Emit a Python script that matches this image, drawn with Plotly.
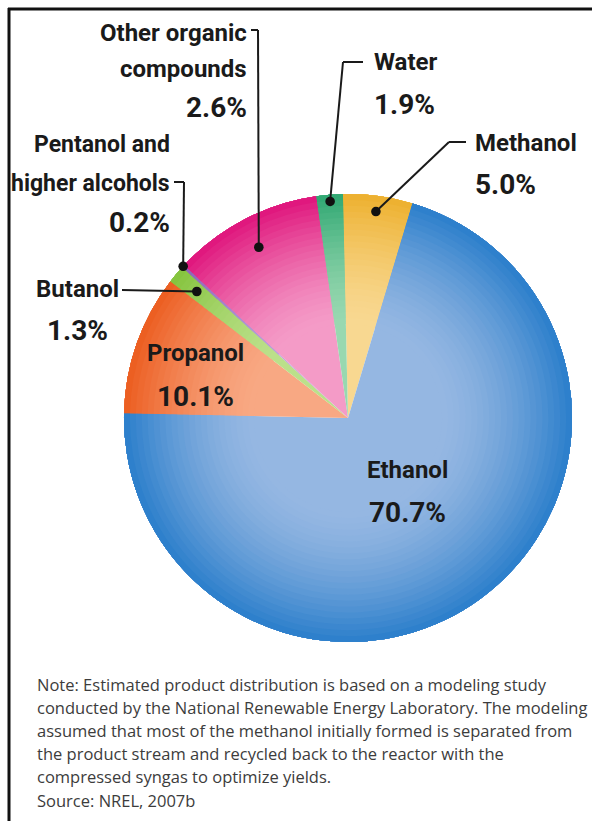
import math
import plotly.graph_objects as go

# ---------------- data ----------------
names = ["Methanol", "Ethanol", "Propanol", "Butanol",
         "Pentanol and higher alcohols", "Other organic compounds", "Water"]
display_names = ["Methanol", "Ethanol", "Propanol", "Butanol",
                 "Pentanol and<br>higher alcohols", "Other organic<br>compounds", "Water"]
printed_pct = [5.0, 70.7, 10.1, 1.3, 0.2, 2.6, 1.9]          # percentages printed on the chart
drawn_share = [5.0, 70.7, 10.1, 1.3, 0.2, 10.8, 1.9]         # slice sizes as drawn in the picture

note_lines = [
    "Note: Estimated product distribution is based on a modeling study",
    "conducted by the National Renewable Energy Laboratory. The modeling",
    "assumed that most of the methanol initially formed is separated from",
    "the product stream and recycled back to the reactor with the",
    "compressed syngas to optimize yields.",
    "Source: NREL, 2007b",
]

# ---------------- styles ----------------
inner_colors = ["#f8d891", "#95b7e2", "#f8a883", "#bbe08a", "#b9a0d8", "#f49bc7", "#98d8b0"]
outer_colors = ["#edb02e", "#2a7ecb", "#ec5c1f", "#84c33c", "#8a5fb5", "#df137b", "#2ea772"]

W, H = 592, 821
CX, CY, R = 348, 418, 224
ROT = -1.3

# label placement: (x, xanchor, y of first name line, line step, y of pct line)
label_pos = {
    "Methanol": (473, "left", 143, 38, 184),
    "Ethanol": (407, "center", 470, 38, 512),
    "Propanol": (195, "center", 353, 38, 396),
    "Butanol": (78, "center", 289, 38, 330),
    "Pentanol and higher alcohols": (172, "right", 145, 38, 223),
    "Other organic compounds": (249, "right", 33, 36, 107),
    "Water": (372, "left", 62, 38, 104),
}
name_sizes = {"Pentanol and higher alcohols": 23}
# leader lines: text-side points, then dot radius fraction
leader = {
    "Methanol": ([(466, 142), (449, 142)], 0.93),
    "Water": ([(363, 62), (343, 62)], 0.97),
    "Other organic compounds": ([(251, 30), (258, 30)], 0.86),
    "Pentanol and higher alcohols": ([(174, 182), (184, 182)], 1.0),
    "Butanol": ([(122, 290)], 0.88),
}

LABEL_FONT = "Liberation Sans Narrow, Arial Narrow, Roboto, sans-serif"


def hex_rgb(h):
    h = h.lstrip("#")
    return tuple(int(h[i:i + 2], 16) for i in (0, 2, 4))


def mix(c1, c2, t):
    a, b = hex_rgb(c1), hex_rgb(c2)
    return "rgb(%d,%d,%d)" % tuple(round(a[i] + (b[i] - a[i]) * t) for i in range(3))


def px(x):
    return x / W


def py(y):
    return 1 - y / H


fig = go.Figure()
dom_x = [px(CX - R), px(CX + R)]
dom_y = [py(CY + R), py(CY - R)]

# layered pies to imitate the radial shading
R0, NL = 0.42, 22
layers = [(0.0, 0.0)]
for k in range(NL):
    hole = R0 + k * (1 - R0) / NL
    rmid = hole + 0.5 * (1 - R0) / NL
    t = min(1.0, max(0.0, (rmid - R0) / (1 - R0))) ** 1.5
    layers.append((hole, t))

for hole, t in layers:
    fig.add_trace(go.Pie(
        values=drawn_share, labels=names, sort=False, direction="clockwise",
        rotation=ROT, hole=hole,
        marker=dict(colors=[mix(i, o, t) for i, o in zip(inner_colors, outer_colors)],
                    line=dict(width=0)),
        textinfo="none", hoverinfo="skip", showlegend=False,
        domain=dict(x=dom_x, y=dom_y),
    ))

# slice mid angles (clockwise from 12 o'clock)
total = sum(drawn_share)
mid_angle = {}
acc = ROT
for n, v in zip(names, drawn_share):
    span = 360 * v / total
    mid_angle[n] = acc + span / 2
    acc += span

shapes = []
annotations = []

# frame
shapes.append(dict(type="line", xref="paper", yref="paper", x0=px(8), x1=px(W + 2),
                   y0=py(9), y1=py(9), line=dict(color="#111", width=3)))
shapes.append(dict(type="line", xref="paper", yref="paper", x0=px(9), x1=px(9),
                   y0=py(8), y1=py(H + 2), line=dict(color="#111", width=3)))

# leader lines and dots
for n, (pts, rf) in leader.items():
    a = math.radians(mid_angle[n])
    dx = CX + R * rf * math.sin(a)
    dy = CY - R * rf * math.cos(a)
    path_pts = pts + [(dx, dy)]
    for (x0, y0), (x1, y1) in zip(path_pts[:-1], path_pts[1:]):
        shapes.append(dict(type="line", xref="paper", yref="paper", layer="above",
                           x0=px(x0), y0=py(y0), x1=px(x1), y1=py(y1),
                           line=dict(color="#1a1a1a", width=2)))
    rd = 4.8
    shapes.append(dict(type="circle", xref="paper", yref="paper", layer="above",
                       x0=px(dx - rd), x1=px(dx + rd), y0=py(dy + rd), y1=py(dy - rd),
                       fillcolor="#111", line=dict(color="#111", width=0)))

# labels
for n, dn, p in zip(names, display_names, printed_pct):
    x, xa, y0, step, ypct = label_pos[n]
    for i, line in enumerate(dn.split("<br>")):
        annotations.append(dict(
            x=px(x), y=py(y0 + i * step), xref="paper", yref="paper",
            xanchor=xa, yanchor="middle", showarrow=False,
            text="<b>%s</b>" % line,
            font=dict(family=LABEL_FONT, size=name_sizes.get(n, 24), color="#1a1a1a")))
    annotations.append(dict(
        x=px(x), y=py(ypct), xref="paper", yref="paper",
        xanchor=xa, yanchor="middle", showarrow=False,
        text="<b>%.1f%%</b>" % p,
        font=dict(family=LABEL_FONT, size=28, color="#1a1a1a")))

# note
for i, line in enumerate(note_lines):
    annotations.append(dict(
        x=px(35), y=py(684 + i * 23.2), xref="paper", yref="paper",
        xanchor="left", yanchor="middle", showarrow=False, text=line,
        font=dict(family="Open Sans, sans-serif", size=16.5, color="#3c3c3c")))

fig.update_layout(
    width=W, height=H, margin=dict(l=0, r=0, t=0, b=0),
    paper_bgcolor="white", plot_bgcolor="white",
    shapes=shapes, annotations=annotations, showlegend=False,
)

fig.write_html("out.html", config={"displayModeBar": False},
               post_script="document.body.style.margin='0';")
